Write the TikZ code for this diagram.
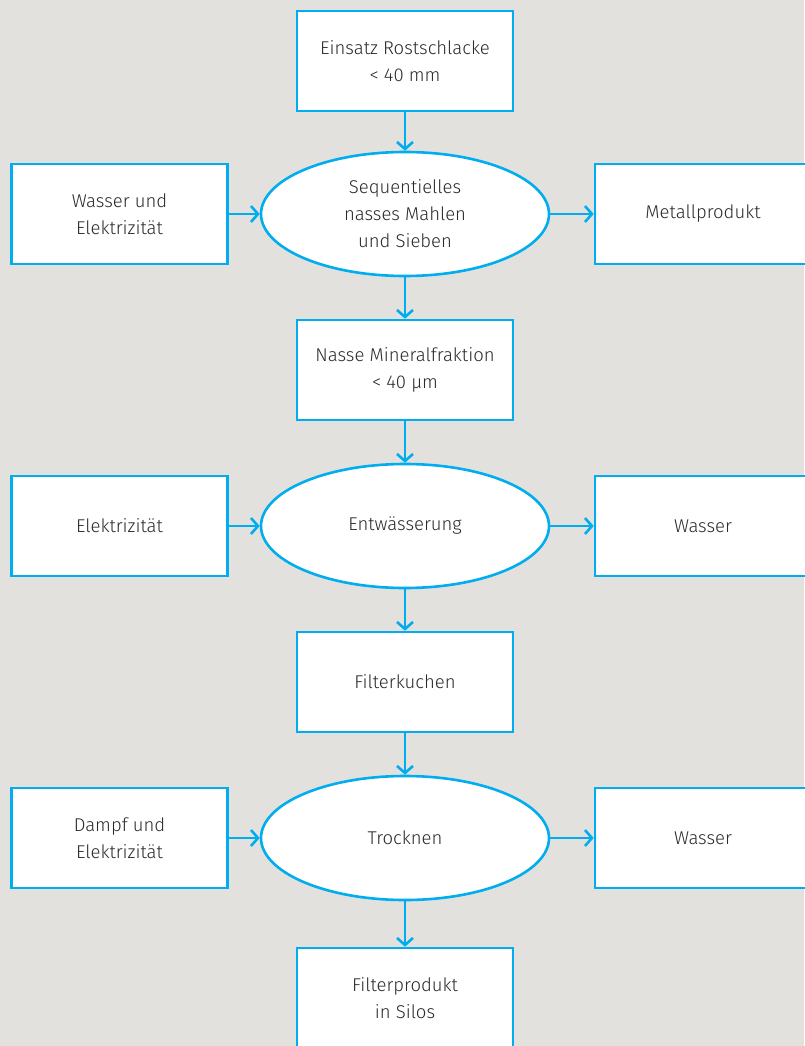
\documentclass[tikz,border=0pt]{standalone}
\usepackage{fontspec}
\setmainfont{Fira Sans}[UprightFont=* Light]
\usepackage{tikz}
\usetikzlibrary{shapes.geometric,arrows.meta}
\definecolor{flowblue}{HTML}{00AEEF}
\definecolor{paper}{HTML}{E3E1DD}
\definecolor{ink}{HTML}{2A2A2A}

\tikzset{
  box/.style={draw=flowblue, fill=white, line width=2.6pt, minimum width=216pt,
    minimum height=100pt, inner sep=0pt, align=center, text=ink,
    font=\fontsize{18.5}{27}\selectfont},
  proc/.style={ellipse, draw=flowblue, fill=white, line width=2.6pt, minimum width=288pt,
    minimum height=124pt, inner sep=0pt, align=center, text=ink,
    font=\fontsize{18.5}{27}\selectfont},
  arr/.style={draw=flowblue, line width=2.6pt,
    -{Straight Barb[length=7pt,width=16pt]}}
}

\begin{document}
\begin{tikzpicture}[x=1pt,y=-1pt]
                        \fill[paper] (0,0) rectangle (804,1046);
                        \useasboundingbox (0,0) rectangle (804,1046);
                        % stage 1
                        \node[box] (einsatz) at (405,61) {Einsatz Rostschlacke\\< 40 mm};
                        \node[proc] (mahlen) at (405,214) {Sequentielles\\nasses Mahlen\\und Sieben};
                        \node[box] (wasserel) at (119.5,214) {Wasser und\\Elektrizität};
                        \node[box] (metall) at (703,214) {Metallprodukt};
                        % stage 2
                        \node[box] (nasse) at (405,370) {Nasse Mineralfraktion\\< 40 µm};
                        \node[proc] (entw) at (405,526) {Entwässerung};
                        \node[box] (elektr) at (119.5,526) {Elektrizität};
                        \node[box] (wasser1) at (703,526) {Wasser};
                        % stage 3
                        \node[box] (kuchen) at (405,682) {Filterkuchen};
                        \node[proc] (trocknen) at (405,838) {Trocknen};
                        \node[box] (dampf) at (119.5,838) {Dampf und\\Elektrizität};
                        \node[box] (wasser2) at (703,838) {Wasser};
                        \node[box] (silos) at (405,998) {Filterprodukt\\in Silos};
                        % arrows
                        \draw[arr] (einsatz) -- (mahlen);
                        \draw[arr] (wasserel) -- (mahlen);
                        \draw[arr] (mahlen) -- (metall);
                        \draw[arr] (mahlen) -- (nasse);
                        \draw[arr] (nasse) -- (entw);
                        \draw[arr] (elektr) -- (entw);
                        \draw[arr] (entw) -- (wasser1);
                        \draw[arr] (entw) -- (kuchen);
                        \draw[arr] (kuchen) -- (trocknen);
                        \draw[arr] (dampf) -- (trocknen);
                        \draw[arr] (trocknen) -- (wasser2);
                        \draw[arr] (trocknen) -- (silos);
                    \end{tikzpicture}
\end{document}
